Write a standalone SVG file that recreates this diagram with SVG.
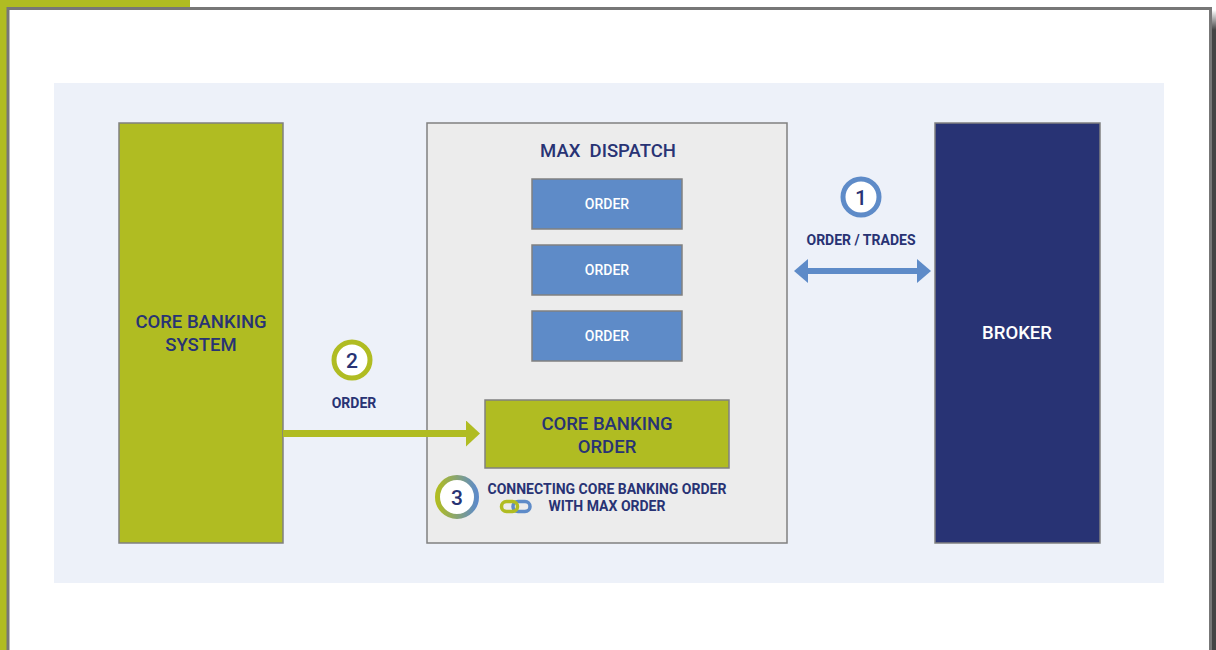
<svg xmlns="http://www.w3.org/2000/svg" width="1216" height="650" viewBox="0 0 1216 650">
  <style>
    .t { font-family: Roboto, "Liberation Sans", sans-serif; }
    .big { font-size: 18.5px; font-weight: 500; fill: #283374; }
    .lbl { font-size: 14px; font-weight: bold; fill: #283374; }
    .ord { font-size: 14px; font-weight: 500; fill: #ffffff; }
    .num { font-size: 21px; font-weight: 500; fill: #283374; }
    .box { stroke: #808080; stroke-width: 1.5; }
  </style>
  <defs>
    <linearGradient id="ring3" x1="0" y1="0" x2="1" y2="0">
      <stop offset="0" stop-color="#b0bc22"/>
      <stop offset="1" stop-color="#5e8bc8"/>
    </linearGradient>
    <linearGradient id="shadowTop" x1="0" y1="0" x2="0" y2="1">
      <stop offset="0" stop-color="#ffffff"/>
      <stop offset="1" stop-color="#444444"/>
    </linearGradient>
    <marker id="arrGreen" viewBox="0 0 14 26" refX="0" refY="13" markerWidth="14" markerHeight="26" markerUnits="userSpaceOnUse" orient="auto">
      <path d="M0,0 L14,13 L0,26 Z" fill="#b0bc22"/>
    </marker>
    <marker id="arrBlue" viewBox="0 0 14 24" refX="0" refY="12" markerWidth="14" markerHeight="24" markerUnits="userSpaceOnUse" orient="auto-start-reverse">
      <path d="M0,0 L14,12 L0,24 Z" fill="#5e8bc8"/>
    </marker>
  </defs>

  <!-- frame -->
  <rect x="0" y="0" width="1216" height="650" fill="#ffffff"/>
  <rect x="0" y="0" width="190" height="7" fill="#b0bc22"/>
  <rect x="0" y="0" width="7" height="650" fill="#b0bc22"/>
  <rect x="1211" y="30" width="5" height="620" fill="#444444"/>
  <rect x="1211" y="10" width="5" height="20" fill="url(#shadowTop)"/>
  <path d="M8,651 L8,8.5 L1210.5,8.5 L1210.5,651" fill="none" stroke="#777777" stroke-width="3"/>

  <!-- panel -->
  <rect x="54" y="83" width="1110" height="500" fill="#edf1f9"/>

  <g id="core-banking-system">
    <rect class="box" x="119" y="123" width="164" height="420" fill="#b0bc22"/>
    <text class="t big" x="201" y="328" text-anchor="middle">CORE BANKING</text>
    <text class="t big" x="201" y="351" text-anchor="middle">SYSTEM</text>
  </g>

  <g id="max-dispatch">
    <rect class="box" x="427" y="123" width="360" height="420" fill="#ececec"/>
    <text class="t big" x="608" y="157" text-anchor="middle" xml:space="preserve">MAX  DISPATCH</text>
  </g>

  <g id="order-1">
    <rect class="box" x="532" y="179" width="150" height="50" fill="#5e8bc8"/>
    <text class="t ord" x="607" y="209" text-anchor="middle">ORDER</text>
  </g>
  <g id="order-2">
    <rect class="box" x="532" y="245" width="150" height="50" fill="#5e8bc8"/>
    <text class="t ord" x="607" y="275" text-anchor="middle">ORDER</text>
  </g>
  <g id="order-3">
    <rect class="box" x="532" y="311" width="150" height="50" fill="#5e8bc8"/>
    <text class="t ord" x="607" y="341" text-anchor="middle">ORDER</text>
  </g>

  <g id="core-banking-order">
    <rect class="box" x="485" y="400" width="244" height="68" fill="#b0bc22"/>
    <text class="t big" x="607" y="430" text-anchor="middle">CORE BANKING</text>
    <text class="t big" x="607" y="453" text-anchor="middle">ORDER</text>
  </g>

  <g id="broker">
    <rect class="box" x="935" y="123" width="165" height="420" fill="#283374"/>
    <text class="t" x="1017" y="339" text-anchor="middle" font-size="18.5" font-weight="500" fill="#ffffff">BROKER</text>
  </g>

  <g id="connectors">
    <line x1="283" y1="433.5" x2="466" y2="433.5" stroke="#b0bc22" stroke-width="7" marker-end="url(#arrGreen)"/>
    <line x1="808" y1="271" x2="917" y2="271" stroke="#5e8bc8" stroke-width="6" marker-start="url(#arrBlue)" marker-end="url(#arrBlue)"/>
  </g>

  <g id="step-1">
    <circle cx="861" cy="197" r="18" fill="#ffffff" stroke="#5e8bc8" stroke-width="5"/>
    <text class="t num" x="861" y="204.5" text-anchor="middle">1</text>
    <text class="t lbl" x="861" y="245" text-anchor="middle">ORDER / TRADES</text>
  </g>

  <g id="step-2">
    <circle cx="352" cy="360" r="18" fill="#ffffff" stroke="#b0bc22" stroke-width="5"/>
    <text class="t num" x="352" y="367.5" text-anchor="middle">2</text>
    <text class="t lbl" x="354" y="408" text-anchor="middle">ORDER</text>
  </g>

  <g id="step-3">
    <circle cx="457" cy="497" r="19.5" fill="#ffffff" stroke="url(#ring3)" stroke-width="5"/>
    <text class="t num" x="457" y="505" text-anchor="middle">3</text>
    <text class="t lbl" x="607" y="494" text-anchor="middle">CONNECTING CORE BANKING ORDER</text>
    <text class="t lbl" x="607" y="511" text-anchor="middle">WITH MAX ORDER</text>
    <rect x="513" y="501.5" width="17" height="10" rx="5" fill="none" stroke="#5e8bc8" stroke-width="3.5"/>
    <rect x="501.5" y="501.5" width="16" height="10" rx="5" fill="none" stroke="#b0bc22" stroke-width="3.5"/>
  </g>
</svg>
